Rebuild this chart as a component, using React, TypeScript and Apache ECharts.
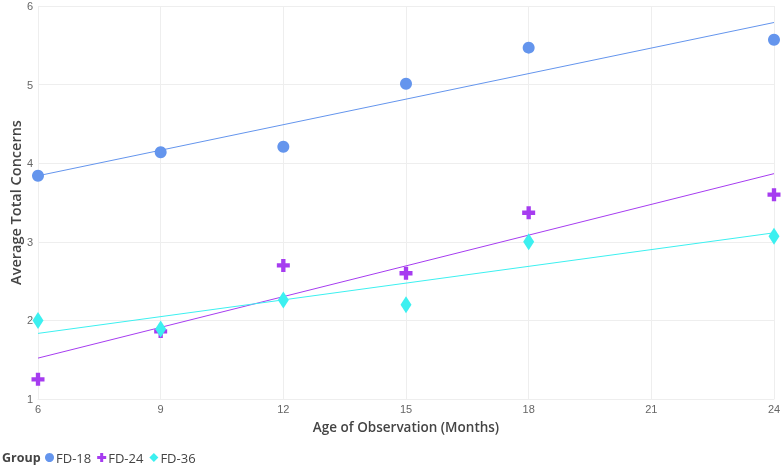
import React, { useEffect, useRef } from "react";
import * as echarts from "echarts";

// Observation ages (months) and group averages
const ages = [6, 9, 12, 15, 18, 24];
const fd18 = [3.84, 4.14, 4.21, 5.01, 5.47, 5.57];
const fd24 = [1.25, 1.86, 2.7, 2.6, 3.37, 3.6];
const fd36 = [2.0, 1.89, 2.26, 2.2, 3.0, 3.07];

const groupNames = ["FD-18", "FD-24", "FD-36"];
const groupColors = ["#6495ed", "#a63cf0", "#3cf0f0"];

const plusPath = "path://M4,0H8V4H12V8H8V12H4V8H0V4H4Z";

// Least-squares fit for each group's trend line
function fitLine(xs: number[], ys: number[]): number[][] {
  const n = xs.length;
  const mx = xs.reduce((a, b) => a + b, 0) / n;
  const my = ys.reduce((a, b) => a + b, 0) / n;
  let sxy = 0;
  let sxx = 0;
  for (let i = 0; i < n; i++) {
    sxy += (xs[i] - mx) * (ys[i] - my);
    sxx += (xs[i] - mx) * (xs[i] - mx);
  }
  const slope = sxy / sxx;
  const x0 = Math.min(...xs);
  const x1 = Math.max(...xs);
  return [
    [x0, my + slope * (x0 - mx)],
    [x1, my + slope * (x1 - mx)],
  ];
}

export default function App() {
  const ref = useRef<HTMLDivElement>(null);

  useEffect(() => {
    if (!ref.current) return;
    const chart = echarts.init(ref.current, null, { renderer: "svg" });
    const groups = [fd18, fd24, fd36];
    const symbols = ["circle", plusPath, "diamond"];
    const sizes: any[] = [12, 13, [11, 17]];

    const scatter = groups.map((vals, i) => ({
      name: groupNames[i],
      type: "scatter",
      data: ages.map((a, j) => [a, vals[j]]),
      symbol: symbols[i],
      symbolSize: sizes[i],
      itemStyle: { color: groupColors[i], opacity: 1 },
      z: 3,
    }));
    const trends = groups.map((vals, i) => ({
      name: groupNames[i] + " trend",
      type: "line",
      data: fitLine(ages, vals),
      showSymbol: false,
      lineStyle: { color: groupColors[i], width: 1 },
      silent: true,
      z: 2,
    }));

    chart.setOption({
      animation: false,
      textStyle: { fontFamily: "'Open Sans', sans-serif" },
      grid: {
        left: 38,
        right: 8,
        top: 6,
        bottom: 69,
        containLabel: false,
        outerBoundsMode: "none",
      },
      xAxis: {
        type: "value",
        min: 6,
        max: 24,
        interval: 3,
        name: "Age of Observation (Months)",
        nameLocation: "middle",
        nameGap: 21,
        nameTextStyle: { fontSize: 13.5, fontWeight: 600, color: "#444" },
        axisLine: { show: true, lineStyle: { color: "#eeeeee" } },
        axisTick: { show: false },
        axisLabel: {
          color: "#666",
          fontSize: 11,
          fontFamily: "'Liberation Sans Narrow', sans-serif",
          margin: 4,
        },
        splitLine: { show: true, lineStyle: { color: "#eeeeee" } },
      },
      yAxis: {
        type: "value",
        min: 1,
        max: 6,
        interval: 1,
        name: "Average Total Concerns",
        nameLocation: "middle",
        nameMoveOverlap: false,
        nameGap: 15,
        nameTextStyle: { fontSize: 14.5, fontWeight: 600, color: "#444" },
        axisLine: { show: false },
        axisTick: { show: false },
        axisLabel: {
          color: "#666",
          fontSize: 11,
          fontFamily: "'Liberation Sans Narrow', sans-serif",
          margin: 5,
        },
        splitLine: { show: true, lineStyle: { color: "#eeeeee" } },
      },
      legend: {
        data: groupNames.map((n, i) => ({ name: n, icon: symbols[i] })),
        left: 45,
        bottom: 4,
        padding: 0,
        itemWidth: 9,
        itemHeight: 9,
        itemGap: 6,
        textStyle: { fontSize: 13, color: "#444", padding: [0, 0, 0, -3] },
      },
      graphic: [
        {
          type: "text",
          left: 2,
          bottom: 4,
          style: {
            text: "Group",
            fontSize: 12.5,
            fontWeight: 700,
            fill: "#444",
            fontFamily: "'Open Sans', sans-serif",
          },
        },
      ],
      series: [...trends, ...scatter],
    });

    return () => chart.dispose();
  }, []);

  return (
    <div
      ref={ref}
      style={{ position: "fixed", left: 0, top: 0, width: 782, height: 468 }}
    />
  );
}
